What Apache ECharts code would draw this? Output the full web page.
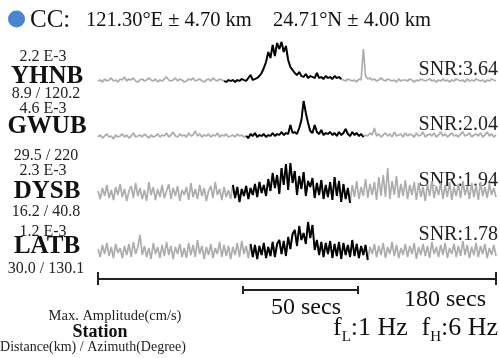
<!DOCTYPE html>
<html>
<head>
<meta charset="utf-8">
<script src="https://cdn.jsdelivr.net/npm/echarts@6/dist/echarts.min.js"></script>
<style>
  html, body { margin: 0; padding: 0; background: #fff; }
  #chart { width: 500px; height: 358px; }
</style>
</head>
<body>
<div id="chart"></div>
<script>
var stations = ['YHNB', 'GWUB', 'DYSB', 'LATB'];
var maxAmp = ['2.2 E-3', '4.6 E-3', '2.3 E-3', '1.2 E-3'];
var distAz = ['8.9 / 120.2', '29.5 / 220', '16.2 / 40.8', '30.0 / 130.1'];
var snr = ['3.64', '2.04', '1.94', '1.78'];
// picked window (secs) drawn in black
var windows = [[57, 110], [67, 120], [61, 114], [69, 122]];
var scaleTotal = [0, 180];
var scaleWin = [65.5, 117.5];

// one sample per second, 0..180 s
var yhnb = [1,2,0,3,1,2,4,1,2,0, 3,2,5,1,3,2,4,1,0,2, 3,1,2,4,2,1,3,0,2,1, 3,5,2,1,2,4,1,3,2,0,
  1,3,2,4,1,2,3,1,0,2, 3,1,4,2,1,3,2,1,0,2, 1,2,0,2,1,3,2,1,4,7, 2,3,4,6,9,14,20,30,24,37,
  26,39,33,40,30,36,22,15,12,9, 7,10,6,5,8,4,6,5,4,9, 4,5,3,6,4,5,3,6,4,5, 3,2,1,3,2,1,2,0,3,2,
  33,6,3,4,2,3,1,2,4,2, 1,3,2,1,2,0,3,1,2,2, 1,3,2,0,2,1,3,2,1,2, 3,1,2,0,2,1,3,1,2,0,
  2,1,3,2,1,2,0,3,1,2, 1,3,2,1,2,0,2,1,3,2,1];
var gwub = [1,3,0,2,4,1,2,-1,3,1, 2,4,1,3,0,2,5,1,2,3, 1,4,2,0,3,1,2,4,1,3, 2,5,1,3,6,2,1,4,2,3,
  1,5,2,3,7,2,4,1,3,2, 4,1,3,2,5,1,3,2,4,1, 2,3,1,4,2,3,1,2,0,4, 2,5,1,3,2,4,1,3,2,5,
  2,4,3,6,3,5,4,13,5,6, 4,10,18,37,25,15,7,5,13,6, 4,8,3,5,4,6,3,5,2,6, 3,5,9,4,2,6,3,5,2,4,
  1,3,2,5,3,10,2,4,1,3, 5,2,4,1,6,2,3,4,1,5, 2,4,3,1,5,2,3,6,1,3, 4,2,5,1,3,6,2,4,1,3,
  5,2,3,1,4,6,2,3,5,1, 3,4,2,5,1,3,6,2,4,1,3];
var dysb = [2,-6,5,-3,8,-5,3,-7,6,-2, 9,-4,4,-8,2,7,-5,10,-3,5, -6,3,-8,11,-2,6,-7,4,-4,8, -5,2,9,-6,5,-3,7,-8,3,-2,
  6,-7,10,-4,4,-6,8,-3,5,-8, 2,7,-5,11,-2,4,-7,6,-4,3, -6,8,-5,6,-9,4,-3,7,-6,5, -2,9,-4,11,0,8,-3,14,2,20,
  5,18,-1,25,8,29,3,30,10,22, -2,17,4,21,-3,12,6,15,-5,10, -2,13,-6,8,-4,11,-7,16,-3,12, -9,9,-6,5,-10,8,-4,12,-6,6,
  -3,14,-5,9,-2,11,-7,16,-3,18, -4,25,-6,12,-2,17,-5,9,-3,13, -6,8,-2,11,-7,10,-4,6,-8,9, -3,12,-5,7,-2,10,-6,8,-4,11,
  -7,6,-3,9,-5,12,-2,7,-6,10, -4,8,-7,11,-3,6,-5,9,-2,5,-4];
var latb = [3,-5,7,-2,9,-4,5,-6,8,-1, 4,-6,6,-3,8,-5,10,-2,5,17, -3,6,-5,4,-7,9,-2,5,-6,7, -4,10,-3,6,-7,5,-2,8,-5,4,
  -6,9,-3,7,-5,12,-2,6,-7,5, -3,8,-6,4,-2,10,-5,7,-4,6, -7,5,-3,9,-5,11,-2,6,-6,8, -5,7,-7,6,-3,9,-6,5,-4,10,
  -5,8,12,-2,11,-4,15,3,18,22, 6,26,12,19,8,30,14,27,2,12, -3,10,-5,9,-2,11,-6,8,-4,10, -7,9,-3,7,-5,12,-4,8,-6,6,
  -3,7,-8,5,-2,8,-5,6,-3,9, -6,5,-2,10,-4,7,-6,4,-3,8, -5,6,-2,9,-7,5,-3,8,-4,6, -6,10,-2,5,-5,7,-3,9,-6,4,
  -2,8,-5,6,-4,11,-3,7,-6,5, -3,9,-5,6,-2,8,-6,4,-3,7,-4];
var traces = [yhnb, gwub, dysb, latb];

var serif = 'Liberation Serif';
// grid layout per trace: top, height, ymin, ymax (1 unit = 1 px)
var layout = [[35, 60, -13, 47], [98, 55, -15, 40], [158, 50, -15, 35], [217, 50, -15, 35]];
var labelY = [[57, 77, 94], [109, 127, 156], [171, 192, 212], [232, 247, 269]];
var snrY = [70, 125, 181, 235];

var grids = [], xAxes = [], yAxes = [], series = [], graphic = [];
traces.forEach(function (vals, i) {
  var L = layout[i];
  grids.push({ left: 98, right: 4, top: L[0], height: L[1] });
  xAxes.push({ gridIndex: i, type: 'value', min: 0, max: 180, show: false });
  yAxes.push({ gridIndex: i, type: 'value', min: L[2], max: L[3], show: false });
  var all = vals.map(function (v, t) { return [t, v]; });
  var win = vals.map(function (v, t) {
    return (t >= windows[i][0] && t <= windows[i][1]) ? [t, v] : [t, null];
  });
  series.push({
    type: 'line', xAxisIndex: i, yAxisIndex: i, data: all, showSymbol: false,
    lineStyle: { color: '#adadad', width: 1.7 }, z: 2
  });
  series.push({
    type: 'line', xAxisIndex: i, yAxisIndex: i, data: win, showSymbol: false,
    lineStyle: { color: '#000', width: 1.9 }, z: 3
  });
  graphic.push({ type: 'text', x: 43, y: labelY[i][0], style: { text: maxAmp[i], font: '16px "' + serif + '"', fill: '#222', align: 'center', verticalAlign: 'middle' } });
  graphic.push({ type: 'text', x: 47, y: labelY[i][1], style: { text: stations[i], font: 'bold 25px "' + serif + '"', fill: '#111', align: 'center', verticalAlign: 'middle' } });
  graphic.push({ type: 'text', x: 46, y: labelY[i][2], style: { text: distAz[i], font: '16px "' + serif + '"', fill: '#222', align: 'center', verticalAlign: 'middle' } });
  graphic.push({ type: 'text', x: 498, y: snrY[i], style: { text: 'SNR:' + snr[i], font: '20px "' + serif + '"', fill: '#222', align: 'right', verticalAlign: 'middle' } });
});

// scale bars
grids.push({ left: 98, right: 4, top: 270, height: 30 });
xAxes.push({ gridIndex: 4, type: 'value', min: 0, max: 180, show: false });
yAxes.push({ gridIndex: 4, type: 'value', min: 0, max: 30, inverse: true, show: false });
function bar(range, y, t0, t1) {
  return {
    type: 'line', xAxisIndex: 4, yAxisIndex: 4, showSymbol: false,
    data: [[range[0], y], [range[1], y]],
    lineStyle: { color: '#222', width: 2 },
    markLine: {
      silent: true, symbol: 'none', label: { show: false },
      lineStyle: { color: '#222', width: 2, type: 'solid' },
      data: [
        [{ coord: [range[0], t0] }, { coord: [range[0], t1] }],
        [{ coord: [range[1], t0] }, { coord: [range[1], t1] }]
      ]
    }
  };
}
series.push(bar(scaleTotal, 9, 2, 15));
series.push(bar(scaleWin, 20, 16, 24));

var rich = {
  m: { fontFamily: serif, fontSize: 26, lineHeight: 26, padding: [0, 0, 8, 0] },
  s: { fontFamily: serif, fontSize: 15, lineHeight: 15, verticalAlign: 'bottom' }
};
graphic.push(
  { type: 'circle', shape: { cx: 16.5, cy: 19, r: 8.5 }, style: { fill: '#4a86cf' } },
  { type: 'text', x: 30, y: 20, style: { text: 'CC:', font: '25px "' + serif + '"', fill: '#111', verticalAlign: 'middle' } },
  { type: 'text', x: 86, y: 21, style: { text: '121.30°E ± 4.70 km', font: '20.5px "' + serif + '"', fill: '#111', verticalAlign: 'middle' } },
  { type: 'text', x: 273, y: 21, style: { text: '24.71°N ± 4.00 km', font: '20.5px "' + serif + '"', fill: '#111', verticalAlign: 'middle' } },
  { type: 'text', x: 306, y: 308, style: { text: '50 secs', font: '24px "' + serif + '"', fill: '#111', align: 'center', verticalAlign: 'middle' } },
  { type: 'text', x: 445, y: 300, style: { text: scaleTotal[1] + ' secs', font: '24px "' + serif + '"', fill: '#111', align: 'center', verticalAlign: 'middle' } },
  { type: 'text', x: 115, y: 316, style: { text: 'Max. Amplitude(cm/s)', font: '14.5px "' + serif + '"', fill: '#222', align: 'center', verticalAlign: 'middle' } },
  { type: 'text', x: 100, y: 332, style: { text: 'Station', font: 'bold 18px "' + serif + '"', fill: '#111', align: 'center', verticalAlign: 'middle' } },
  { type: 'text', x: 93, y: 347, style: { text: 'Distance(km) / Azimuth(Degree)', font: '14px "' + serif + '"', fill: '#222', align: 'center', verticalAlign: 'middle' } },
  { type: 'text', x: 333, y: 319, style: { text: '{m|f}{s|L}{m|:1 Hz}', verticalAlign: 'top', fill: '#111', rich: rich } },
  { type: 'text', x: 498, y: 319, style: { text: '{m|f}{s|H}{m|:6 Hz}', align: 'right', verticalAlign: 'top', fill: '#111', rich: rich } }
);

var chart = echarts.init(document.getElementById('chart'));
chart.setOption({
  animation: false,
  backgroundColor: '#fff',
  grid: grids,
  xAxis: xAxes,
  yAxis: yAxes,
  series: series,
  graphic: graphic
});
</script>
</body>
</html>
